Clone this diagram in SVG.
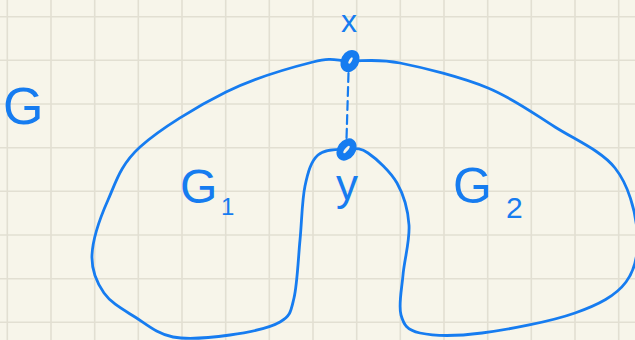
<svg xmlns="http://www.w3.org/2000/svg" width="635" height="340" viewBox="0 0 635 340">
<style>
.grid{stroke:#e2dfd2;stroke-width:1.6;fill:none}
.ink{stroke:#167cf0;stroke-width:2.8;fill:none;stroke-linecap:round;stroke-linejoin:round}
.dash{stroke:#167cf0;stroke-width:2.2;fill:none;stroke-dasharray:9 5;stroke-linecap:round}
.lbl{font-family:"Liberation Sans",Arial,sans-serif;fill:#167cf0}
.dot{fill:#167cf0}
.hole{fill:#f7f5ea}
</style>
<rect width="635" height="340" fill="#f7f5ea"/>
<path class="grid" d="M7.3 0V340M51 0V340M94.7 0V340M138.3 0V340M182 0V340M225.7 0V340M269.3 0V340M313 0V340M356.7 0V340M400.3 0V340M444 0V340M487.7 0V340M531.3 0V340M575 0V340M618.7 0V340M0 16.7H635M0 60.3H635M0 104H635M0 147.7H635M0 191.3H635M0 235H635M0 278.7H635M0 322.3H635"/>
<g id="outline">
<path class="ink" d="M350 61C364.5 61.2 377 58.5 400 63C423 67.5 462.2 77.3 488 88C513.8 98.7 533.8 113.7 555 127C576.2 140.3 601.3 150.8 615 168C628.7 185.2 635.2 211 637 230C638.8 249 636.3 268.2 626 282C615.7 295.8 599 304.5 575 313C551 321.5 507.8 329.7 482 333C456.2 336.3 433.5 336 420 333C406.5 330 403.8 324.7 401 315C398.2 305.3 401.7 290 403 275C404.3 260 410 240.3 409 225C408 209.7 403.8 195 397 183C390.2 171 376.3 158.7 368 153C359.7 147.3 355.3 148.7 347 149C338.7 149.3 325 148.8 318 155C311 161.2 308 171.8 305 186C302 200.2 301.8 221.3 300 240C298.2 258.7 297.3 284.3 294 298C290.7 311.7 290.7 315.8 280 322C269.3 328.2 247.8 332.5 230 335C212.2 337.5 188.8 340 173 337C157.2 334 146.5 324.3 135 317C123.5 309.7 111.2 303.3 104 293C96.8 282.7 91.3 270.5 92 255C92.7 239.5 100 218 108 200C116 182 120.3 165 140 147C159.7 129 197.2 106.2 226 92C254.8 77.8 292.3 67.2 313 62C333.7 56.8 335.5 60.8 350 61Z"/>
</g>
<g id="connectors">
<path class="dash" d="M348.5 73L346.5 139"/>
</g>
<g id="node-x">
<ellipse class="dot" cx="350" cy="61" rx="9" ry="11.5" transform="rotate(28 350 61)"/>
<ellipse class="hole" cx="350.5" cy="60.5" rx="1.3" ry="3.6" transform="rotate(30 350.5 60.5)"/>
<text class="lbl" x="349" y="32" font-size="32" text-anchor="middle">x</text>
</g>
<g id="node-y">
<ellipse class="dot" cx="346.5" cy="149.5" rx="9" ry="12" transform="rotate(35 346.5 149.5)"/>
<ellipse class="hole" cx="346.5" cy="149.5" rx="1.5" ry="4.6" transform="rotate(40 346.5 149.5)"/>
<text class="lbl" x="347" y="200" font-size="44" text-anchor="middle">y</text>
</g>
<g id="label-G">
<text class="lbl" x="3" y="124" font-size="52">G</text>
</g>
<g id="label-G1">
<text class="lbl" x="180" y="203" font-size="48">G</text>
<text class="lbl" x="221" y="215" font-size="24">1</text>
</g>
<g id="label-G2">
<text class="lbl" x="453" y="203" font-size="50">G</text>
<text class="lbl" x="506" y="218" font-size="30">2</text>
</g>
</svg>
